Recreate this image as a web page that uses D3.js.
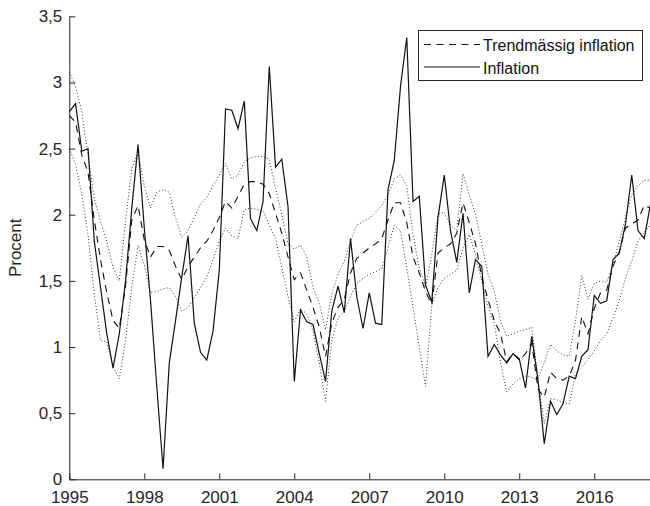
<!DOCTYPE html>
<html>
<head>
<meta charset="utf-8">
<script src="https://cdn.jsdelivr.net/npm/d3@7"></script>
<style>
  body { margin: 0; background: #fff; }
  svg { display: block; font-family: "Liberation Sans", Arial, Helvetica, sans-serif; }
</style>
</head>
<body>
<figure id="chart" style="margin:0"></figure>
<script>
// quarterly observations, 1995 Q1 onwards
const startYear = 1995;
const inflation = [
  2.78, 2.84, 2.48, 2.50, 1.80, 1.45, 1.10, 0.84, 1.10, 1.50, 2.05, 2.53,
  1.90, 1.35, 0.70, 0.08, 0.88, 1.20, 1.53, 1.84, 1.18, 0.96, 0.90, 1.12,
  1.58, 2.80, 2.79, 2.65, 2.86, 1.97, 1.88, 2.10, 3.12, 2.36, 2.42, 2.06,
  0.74, 1.28, 1.19, 1.17, 0.95, 0.74, 1.27, 1.46, 1.26, 1.82, 1.38, 1.14,
  1.41, 1.18, 1.17, 2.19, 2.41, 2.97, 3.34, 2.10, 2.14, 1.47, 1.34, 1.98,
  2.30, 1.88, 1.64, 2.01, 1.41, 1.66, 1.61, 0.93, 1.02, 0.94, 0.88, 0.95,
  0.91, 0.69, 1.08, 0.75, 0.27, 0.59, 0.49, 0.57, 0.78, 0.76, 0.93, 0.98,
  1.39, 1.33, 1.35, 1.66, 1.71, 1.93, 2.30, 1.88, 1.82, 2.08
];
const trend = [
  2.75, 2.70, 2.45, 2.32, 1.96, 1.66, 1.41, 1.20, 1.14, 1.46, 1.96, 2.07,
  1.81, 1.68, 1.76, 1.76, 1.73, 1.61, 1.51, 1.61, 1.68, 1.75, 1.80, 1.88,
  1.98, 2.10, 2.05, 2.14, 2.23, 2.25, 2.25, 2.23, 2.16, 2.01, 1.86, 1.68,
  1.51, 1.56, 1.43, 1.30, 1.15, 0.93, 1.18, 1.30, 1.36, 1.56, 1.67, 1.71,
  1.75, 1.78, 1.82, 1.96, 2.09, 2.09, 1.94, 1.68, 1.56, 1.42, 1.32, 1.71,
  1.75, 1.78, 1.86, 2.09, 1.94, 1.78, 1.53, 1.36, 1.20, 1.10, 0.89, 0.95,
  0.90, 0.95, 1.03, 0.68, 0.62, 0.81, 0.76, 0.75, 0.78, 0.90, 1.23, 1.10,
  1.29, 1.41, 1.43, 1.61, 1.72, 1.90, 1.93, 1.96, 2.07, 2.05
];
const upper = [
  3.08, 2.97, 2.78, 2.45, 2.12, 1.95, 1.80, 1.60, 1.50, 1.95, 2.35, 2.47,
  2.22, 2.05, 2.17, 2.19, 2.17, 1.98, 1.83, 1.88, 1.98, 2.08, 2.13, 2.22,
  2.30, 2.39, 2.27, 2.30, 2.40, 2.43, 2.44, 2.44, 2.42, 2.20, 2.00, 1.78,
  1.74, 1.77, 1.68, 1.45, 1.33, 1.13, 1.40, 1.55, 1.65, 1.80, 1.92, 1.95,
  1.97, 2.02, 2.07, 2.15, 2.27, 2.30, 2.22, 1.85, 1.60, 1.45, 1.70, 2.00,
  2.02, 1.92, 1.88, 2.31, 2.15, 2.00, 1.78, 1.55, 1.42, 1.20, 1.08, 1.10,
  1.12, 1.13, 1.15, 0.76, 0.88, 1.02, 0.97, 0.94, 0.93, 1.20, 1.54, 1.36,
  1.48, 1.50, 1.49, 1.62, 1.80, 1.98, 2.15, 2.22, 2.26, 2.26
];
const lower = [
  2.50, 2.38, 2.15, 1.85, 1.40, 1.05, 1.04, 0.85, 0.76, 1.05, 1.45, 1.77,
  1.62, 1.41, 1.42, 1.44, 1.45, 1.38, 1.27, 1.30, 1.37, 1.45, 1.53, 1.66,
  1.80, 1.90, 1.84, 1.82, 2.04, 2.05, 2.04, 2.03, 1.92, 1.82, 1.60, 1.38,
  1.19, 1.29, 1.25, 1.12, 0.88, 0.59, 1.05, 1.22, 1.27, 1.38, 1.48, 1.52,
  1.55, 1.57, 1.59, 1.75, 1.92, 1.88, 1.60, 1.30, 1.00, 0.70, 1.32, 1.45,
  1.52, 1.55, 1.58, 1.75, 1.85, 1.70, 1.50, 1.30, 1.18, 0.88, 0.66, 0.72,
  0.76, 0.78, 0.77, 0.75, 0.42, 0.61, 0.60, 0.58, 0.57, 0.80, 0.85, 0.90,
  0.97, 1.05, 1.10, 1.22, 1.35, 1.52, 1.65, 1.80, 1.87, 1.92
];
const xTicks = [1995, 1998, 2001, 2004, 2007, 2010, 2013, 2016];
const yTicks = [0, 0.5, 1, 1.5, 2, 2.5, 3, 3.5];
const legendLabels = ['Trendmässig inflation', 'Inflation'];

const width = 650;
const height = 506;
const axisColor = '#262626';

const svg = d3.select('figure#chart')
  .append('svg')
  .attr('width', width)
  .attr('height', height);

const x = d3.scaleLinear()
  .domain([1995, 2018.25])
  .range([69.3, 650.5]);

const y = d3.scaleLinear()
  .domain([0, 3.5])
  .range([479.3, 16.3]);

const sv = d3.formatLocale({ decimal: ',', thousands: ' ', grouping: [3], currency: ['', ' kr'] });

// axes, ticks pointing inwards
svg.append('g')
  .attr('transform', 'translate(0,' + y(0) + ')')
  .call(d3.axisBottom(x).tickValues(xTicks).tickFormat(d3.format('d'))
    .tickSizeInner(-6).tickSizeOuter(0).tickPadding(12));

svg.append('g')
  .attr('transform', 'translate(' + x(1995) + ',0)')
  .call(d3.axisLeft(y).tickValues(yTicks).tickFormat(sv.format('~g'))
    .tickSizeInner(-6).tickSizeOuter(0).tickPadding(7));

svg.selectAll('.domain, .tick line').attr('stroke', axisColor);
svg.selectAll('.tick text')
  .attr('fill', axisColor)
  .style('font-size', '17px')
  .style('font-family', '"Liberation Sans", Arial, sans-serif');

svg.append('text')
  .attr('transform', 'translate(15,' + y(1.75) + ')rotate(-90)')
  .attr('text-anchor', 'middle')
  .attr('dominant-baseline', 'central')
  .attr('fill', axisColor)
  .style('font-size', '17px')
  .text('Procent');

const line = d3.line()
  .x((d, i) => x(startYear + i / 4))
  .y(d => y(d));

// bands
[upper, lower].forEach(band => {
  svg.append('path')
    .datum(band)
    .attr('fill', 'none')
    .attr('stroke', '#333')
    .attr('stroke-width', 1)
    .attr('stroke-dasharray', '1,2.2')
    .attr('d', line);
});

svg.append('path')
  .datum(trend)
  .attr('fill', 'none')
  .attr('stroke', '#111')
  .attr('stroke-width', 1.1)
  .attr('stroke-dasharray', '7,5.5')
  .attr('d', line);

svg.append('path')
  .datum(inflation)
  .attr('fill', 'none')
  .attr('stroke', '#111')
  .attr('stroke-width', 1.2)
  .attr('d', line);

// legend
const legend = svg.append('g');
legend.append('rect')
  .attr('x', 418.5).attr('y', 30.5)
  .attr('width', 224).attr('height', 50)
  .attr('fill', '#fff')
  .attr('stroke', axisColor);

legendLabels.forEach((label, i) => {
  const ly = 44.5 + i * 22.5;
  legend.append('line')
    .attr('x1', 424).attr('x2', 480)
    .attr('y1', ly).attr('y2', ly)
    .attr('stroke', '#111')
    .attr('stroke-width', 1.1)
    .attr('stroke-dasharray', i === 0 ? '7,5.5' : null);
  legend.append('text')
    .attr('x', 483).attr('y', ly + 1)
    .attr('dominant-baseline', 'central')
    .attr('fill', '#111')
    .style('font-size', '16px')
    .text(label);
});
</script>
</body>
</html>
